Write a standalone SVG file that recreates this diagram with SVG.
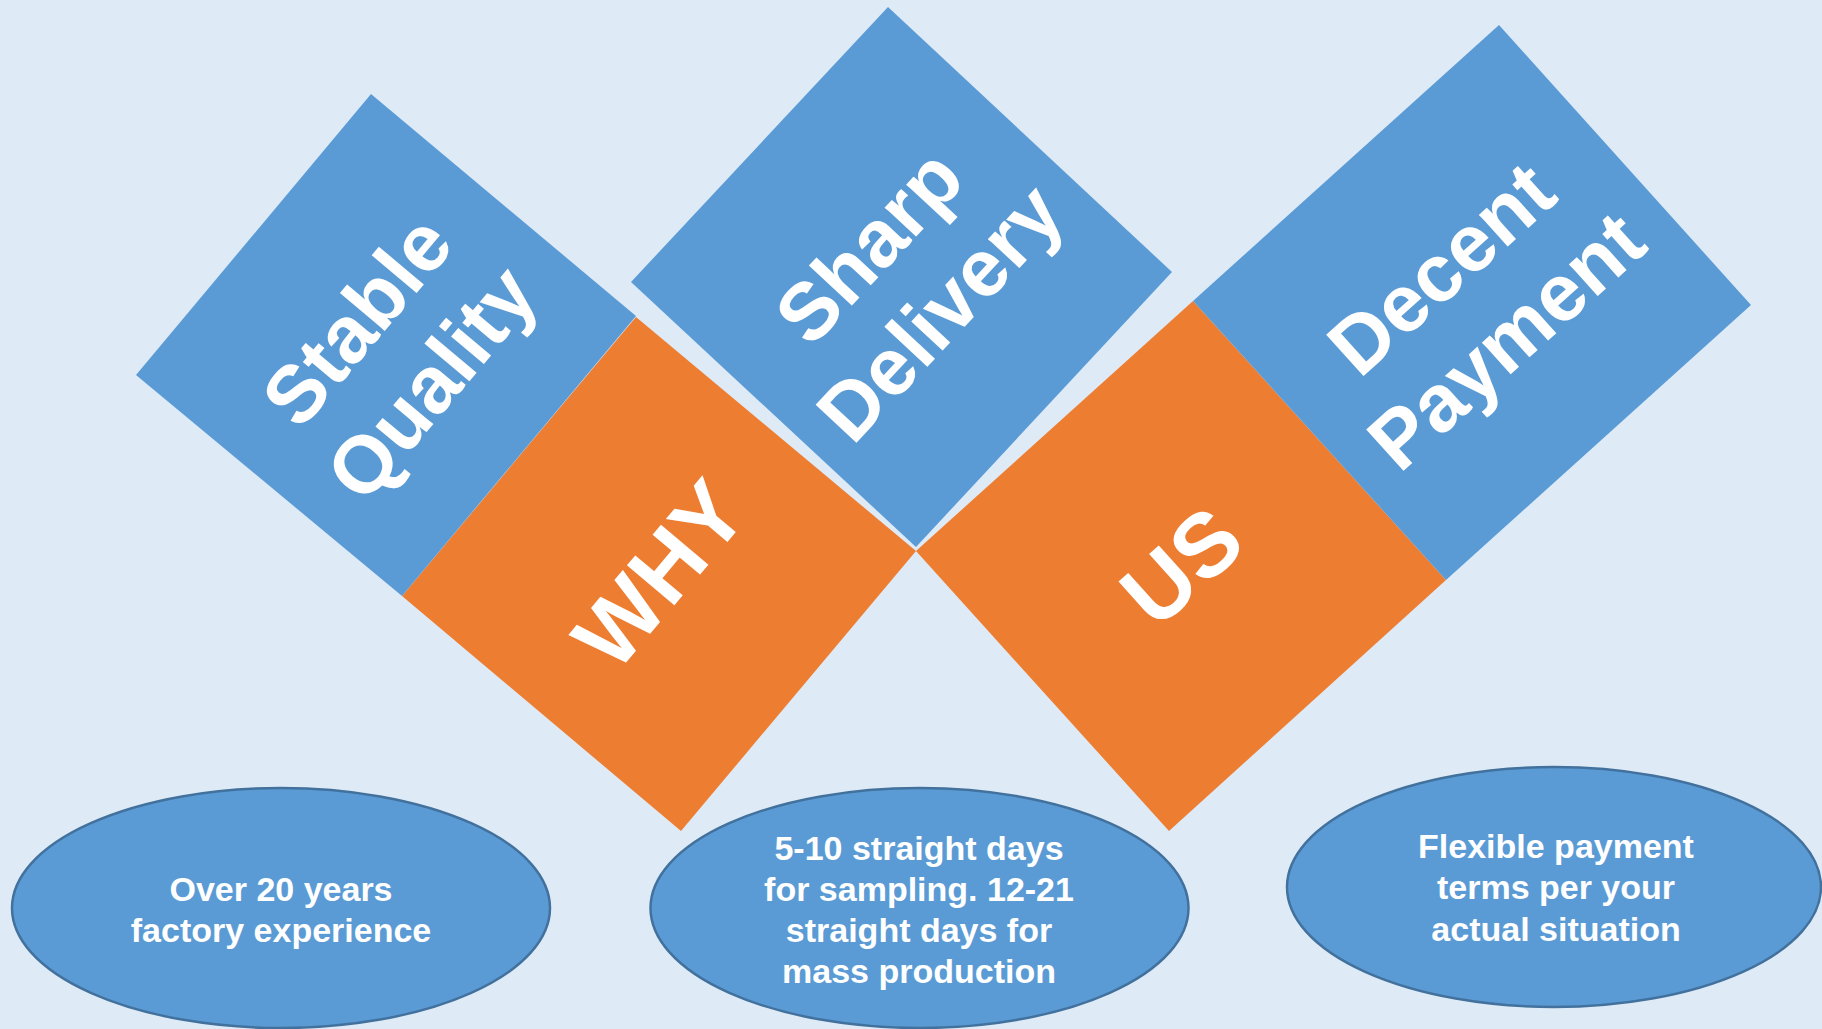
<svg xmlns="http://www.w3.org/2000/svg" width="1822" height="1029" viewBox="0 0 1822 1029">
<style>
.bg{fill:#DEEBF7}
.blue{fill:#5B9BD5}
.orange{fill:#ED7D31}
.oval{fill:#5B9BD5;stroke:#41719C;stroke-width:2.5}
.big{font-family:"Liberation Sans",Arial,sans-serif;font-weight:bold;font-size:81px;fill:#FFFFFF;text-anchor:middle}
.huge{font-family:"Liberation Sans",Arial,sans-serif;font-weight:bold;font-size:90px;fill:#FFFFFF;text-anchor:middle}
.small{font-family:"Liberation Sans",Arial,sans-serif;font-weight:bold;font-size:34px;fill:#FFFFFF;text-anchor:middle}
</style>
<rect class="bg" x="0" y="0" width="1822" height="1029"/>
<g id="connectors"></g>
<g id="why">
<polygon class="orange" points="636,317 916,551 681,831 402,596"/>
<text class="huge" transform="translate(658.75,573.75) rotate(-50)"><tspan x="0" y="32">WHY</tspan></text>
</g>
<g id="us">
<polygon class="orange" points="1193,301 1446,580 1169,831 916,551"/>
<text class="huge" transform="translate(1181,565.75) rotate(-42)"><tspan x="0" y="32">US</tspan></text>
</g>
<g id="stable-quality">
<polygon class="blue" points="371,94 636,316 402,596 136,375"/>
<text class="big" transform="translate(386,345) rotate(-50)"><tspan x="0" y="-10">Stable</tspan><tspan x="0" y="87">Quality</tspan></text>
</g>
<g id="sharp-delivery">
<polygon class="blue" points="888,7 1172,272 916,547 631,282"/>
<text class="big" transform="translate(901.75,277) rotate(-47)"><tspan x="0" y="-17">Sharp</tspan><tspan x="0" y="80">Delivery</tspan></text>
</g>
<g id="decent-payment">
<polygon class="blue" points="1499,25 1751,305 1446,580 1193,301"/>
<text class="big" transform="translate(1472,302.75) rotate(-42)"><tspan x="0" y="-18">Decent</tspan><tspan x="0" y="79">Payment</tspan></text>
</g>
<g id="oval-experience">
<ellipse class="oval" cx="281" cy="908" rx="269" ry="120"/>
<text class="small"><tspan x="281" y="901">Over 20 years</tspan><tspan x="281" y="942">factory experience</tspan></text>
</g>
<g id="oval-delivery">
<ellipse class="oval" cx="919.5" cy="908" rx="269" ry="120"/>
<text class="small"><tspan x="919" y="860">5-10 straight days</tspan><tspan x="919" y="901">for sampling. 12-21</tspan><tspan x="919" y="942">straight days for</tspan><tspan x="919" y="983">mass production</tspan></text>
</g>
<g id="oval-payment">
<ellipse class="oval" cx="1554" cy="887" rx="267" ry="120"/>
<text class="small"><tspan x="1556" y="858">Flexible payment</tspan><tspan x="1556" y="899">terms per your</tspan><tspan x="1556" y="941">actual situation</tspan></text>
</g>
</svg>
